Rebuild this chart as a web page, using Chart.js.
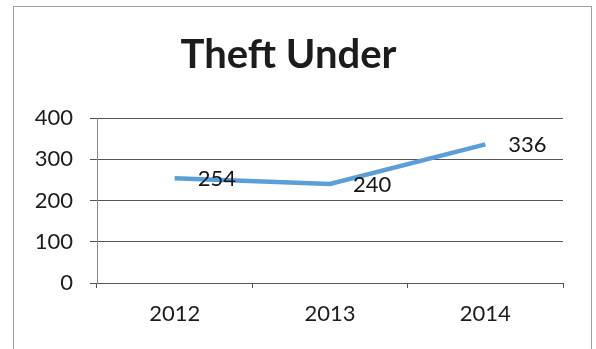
<!DOCTYPE html>
<html>
<head>
<meta charset="utf-8">
<title>Theft Under</title>
<script src="https://cdn.jsdelivr.net/npm/chart.js@4"></script>
<style>
  html, body { margin: 0; padding: 0; background: #fff; overflow: hidden; }
  #wrap { position: relative; width: 596px; height: 349px; }
  #frame { position: absolute; left: 13px; top: 6px; width: 577px; height: 380px; border: 1px solid #a0a0a0; }
  canvas { position: absolute; left: 0; top: 0; }
</style>
</head>
<body>
<div id="wrap">
  <div id="frame"></div>
  <canvas id="chart" width="596" height="349"></canvas>
</div>
<script>
// yearly counts
const years = ['2012', '2013', '2014'];
const theftUnder = [254, 240, 336];
const yTicks = [0, 100, 200, 300, 400];

// writes each value just to the right of its point
const valueLabels = {
    id: 'valueLabels',
    afterDatasetsDraw(chart) {
        const ctx = chart.ctx;
        const meta = chart.getDatasetMeta(0);
        ctx.save();
        ctx.font = '22px Lato';
        ctx.fillStyle = '#151515';
        ctx.textAlign = 'left';
        ctx.textBaseline = 'middle';
        meta.data.forEach((pt, i) => {
            ctx.fillText(String(theftUnder[i]), pt.x + 23, pt.y + 1);
        });
        ctx.restore();
    }
};

const ctx = document.getElementById('chart').getContext('2d');
new Chart(ctx, {
    type: 'line',
    data: {
        labels: years,
        datasets: [{
            label: 'Theft Under',
            data: theftUnder,
            borderColor: '#5b9fd9',
            borderWidth: 4.5,
            pointRadius: 0,
            tension: 0,
            fill: false,
        }],
    },
    options: {
        responsive: false,
        animation: false,
        layout: { padding: { left: 14, right: 33, top: 6, bottom: 16 } },
        plugins: {
            legend: { display: false },
            tooltip: { enabled: false },
            title: {
                display: true,
                text: 'Theft Under',
                color: '#1c1c1c',
                font: { family: 'Lato', size: 40, weight: 'bold' },
                padding: { top: 25, bottom: 39 },
            },
        },
        scales: {
            x: {
                offset: true,
                grid: { offset: true, drawOnChartArea: false, drawTicks: true, tickLength: 5, color: '#555' },
                border: { color: '#555', width: 1 },
                ticks: { color: '#1c1c1c', font: { family: 'Lato', size: 22 }, padding: 13 },
                afterFit: (s) => { s.height = 50; },
            },
            y: {
                min: 0,
                max: 400,
                afterBuildTicks: (s) => { s.ticks = yTicks.map((v) => ({ value: v })); },
                grid: { color: '#555', tickLength: 7 },
                border: { color: '#888', width: 1 },
                ticks: { color: '#1c1c1c', font: { family: 'Lato', size: 22 }, padding: 17 },
                afterFit: (s) => { s.width = 83; },
            },
        },
    },
    plugins: [valueLabels],
});
</script>
</body>
</html>
